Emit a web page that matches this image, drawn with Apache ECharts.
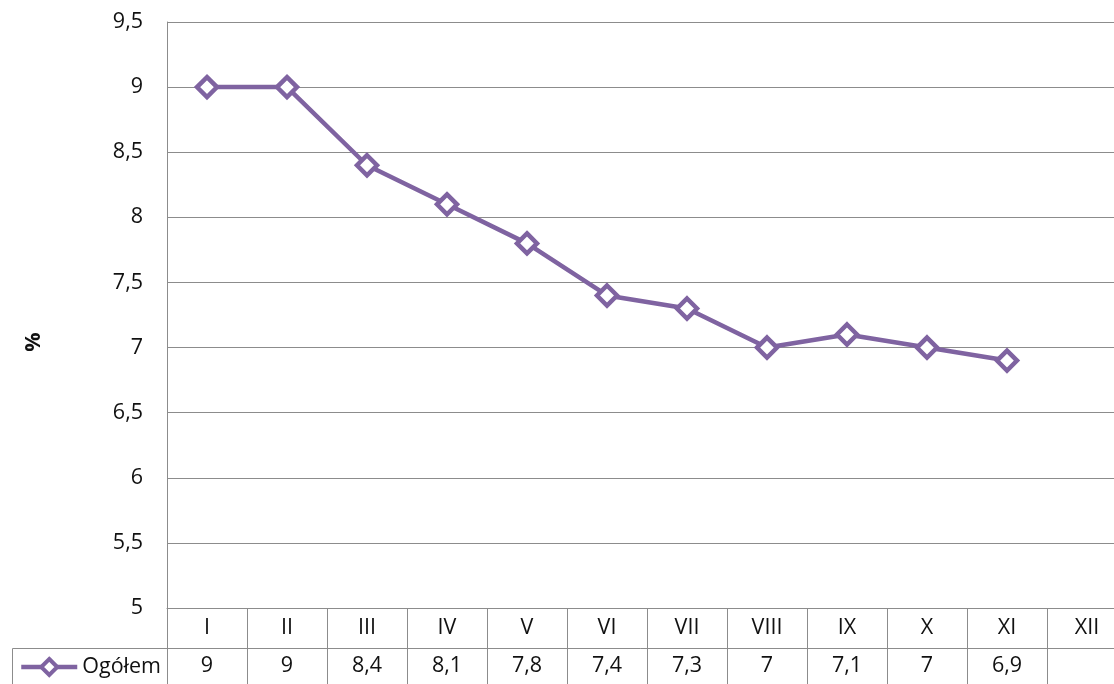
<!DOCTYPE html>
<html><head><meta charset="utf-8">
<script src="https://cdn.jsdelivr.net/npm/echarts@6/dist/echarts.min.js"></script>
<style>html,body{margin:0;padding:0;background:#fff}#c{width:1114px;height:684px}</style>
</head><body><div id="c"></div>
<script>
var categories = ['I','II','III','IV','V','VI','VII','VIII','IX','X','XI','XII'];
var values = [9, 9, 8.4, 8.1, 7.8, 7.4, 7.3, 7, 7.1, 7, 6.9, null];
var seriesName = 'Ogółem';
var yTicks = {min: 5, max: 9.5, interval: 0.5};

function fmt(v){ return v == null ? '' : String(v).replace('.', ','); }
var FONT = 'Open Sans';
var FS = 21.5;
var GRAY = '#8c8c8c';
var TXT = '#111';
var PURPLE = '#7f63a1';
var chart = echarts.init(document.getElementById('c'));
chart.setOption({
  animation: false,
  textStyle: {fontFamily: FONT},
  grid: {left: 167, width: 960, top: 22, height: 586, containLabel: false, outerBoundsMode: 'none'},
  legend: {
    left: 14, top: 651, itemWidth: 56, itemHeight: 20, itemGap: 2,
    textStyle: {fontSize: FS, color: TXT, fontFamily: FONT},
    lineStyle: {width: 4.5, color: PURPLE},
    itemStyle: {color: '#ffffff', borderColor: PURPLE, borderWidth: 4},
    data: [seriesName]
  },
  xAxis: [{
    type: 'category', data: categories, boundaryGap: true,
    axisLine: {lineStyle: {color: GRAY, width: 1}},
    axisTick: {show: true, length: 80, lineStyle: {color: GRAY}},
    axisLabel: {margin: 9, fontSize: FS, color: TXT, fontFamily: FONT},
    splitLine: {show: false}
  }, {
    type: 'category', data: values.map(fmt), boundaryGap: true, position: 'bottom', offset: 40,
    axisLine: {show: true, lineStyle: {color: GRAY, width: 1}},
    axisTick: {show: false},
    axisLabel: {margin: 7, fontSize: FS, color: TXT, fontFamily: FONT, interval: 0}
  }],
  yAxis: {
    type: 'value', min: yTicks.min, max: yTicks.max, interval: yTicks.interval,
    name: '%', nameLocation: 'middle', nameRotate: 90, nameGap: 122,
    nameTextStyle: {fontSize: FS, fontWeight: 'bold', color: TXT, fontFamily: FONT, padding: [0, 54, 0, 0]},
    axisLine: {show: true, lineStyle: {color: GRAY}},
    axisTick: {show: false},
    axisLabel: {margin: 24, fontSize: FS, color: TXT, fontFamily: FONT, formatter: fmt},
    splitLine: {lineStyle: {color: GRAY, width: 1}}
  },
  graphic: [{
    type: 'polyline', silent: true,
    shape: {points: [[12.5, 684], [12.5, 648.5], [167, 648.5]]},
    style: {stroke: GRAY, lineWidth: 1, fill: null}
  }],
  series: [{
    name: seriesName, type: 'line', data: values, xAxisIndex: 0,
    symbol: 'diamond', symbolSize: 20,
    lineStyle: {color: PURPLE, width: 4.5},
    itemStyle: {color: '#ffffff', borderColor: PURPLE, borderWidth: 4.5}
  }]
});
</script></body></html>
